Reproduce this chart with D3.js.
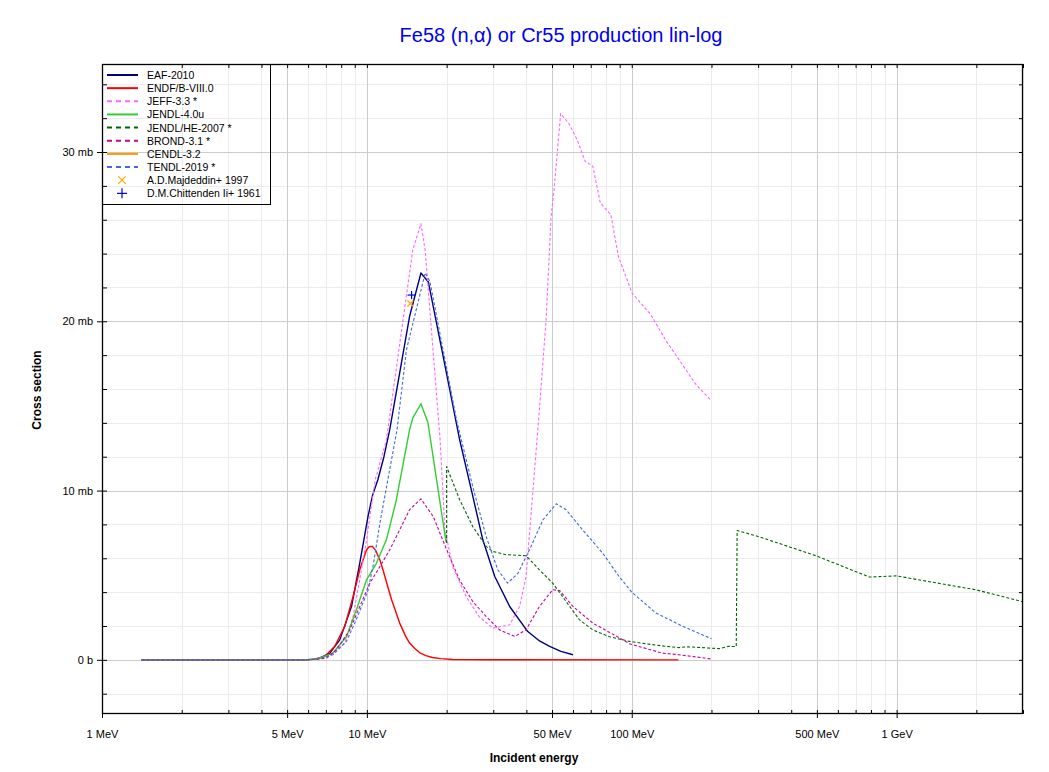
<!DOCTYPE html>
<html><head><meta charset="utf-8">
<script src="https://cdn.jsdelivr.net/npm/d3@7"></script>
<style>
html,body{margin:0;padding:0;background:#fff;}
svg{display:block;font-family:"Liberation Sans",Arial,sans-serif;}
</style></head>
<body><svg id="c" width="1049" height="772"></svg>
<script>
// ---- data: [energy MeV, cross section mb] ----
const eaf2010 = [[1.41,0],[5.8,0],[6.3,0.03],[6.63,0.1],[7.25,0.4],[7.9,1.18],[8.75,3.15],[9.4,5.71],[10.1,8.47],[10.5,9.7],[11.0,10.64],[11.6,12.0],[12.2,13.6],[14.5,20.3],[16.0,22.85],[17.07,22.32],[19.2,18.3],[22.4,13.0],[25,9.8],[27.4,7.09],[30.4,4.92],[34.6,3.15],[40.5,1.67],[45,1.1],[49,0.79],[54,0.5],[60,0.3]];
const endf80 = [[1.41,0],[5.8,0],[6.4,0.05],[6.93,0.2],[7.55,0.79],[8.25,1.97],[8.87,3.74],[9.4,5.32],[9.97,6.5],[10.2,6.68],[10.5,6.7],[10.8,6.45],[11.2,5.9],[11.5,5.32],[12.0,4.3],[12.4,3.55],[13.3,2.17],[14.0,1.4],[14.5,0.99],[15.2,0.65],[15.8,0.43],[16.7,0.25],[17.7,0.14],[19,0.07],[21.1,0.02],[30,0.003],[150,0]];
const jeff33 = [[1.41,0],[5.8,0],[6.5,0.03],[7.3,0.3],[8.25,0.99],[8.87,2.56],[9.4,4.73],[9.97,7.09],[10.75,10.64],[11.85,13.0],[14.9,24.2],[16.0,25.77],[16.6,24.2],[18.9,13.0],[19.7,7.7],[21.1,5.5],[23.7,3.74],[26.5,2.56],[29.9,1.87],[34.6,2.07],[37.7,3.15],[39.9,4.92],[44.5,14.18],[47.5,20.1],[49.6,26.2],[50.9,27.78],[53.9,32.27],[57.9,31.68],[62.2,30.73],[66.7,29.45],[71.3,29.16],[76.1,26.99],[83.4,26.3],[89,23.84],[100.3,21.67],[118,20.39],[134,18.91],[175,16.25],[200,15.3]];
const jendl40u = [[1.41,0],[5.8,0],[6.5,0.05],[7.45,0.4],[8.38,1.38],[9.13,2.96],[9.97,4.73],[10.86,5.7],[11.85,7.09],[12.9,9.4],[14.5,13.6],[14.9,14.28],[16.0,15.13],[17.0,14.02],[19.9,6.95]];
const jendlhe2007 = [[20,6.9],[20,11.42],[22.4,9.46],[25.1,7.88],[28.2,6.7],[29.9,6.4],[33.6,6.21],[39.9,6.15],[44.8,5.32],[50.3,4.53],[56.5,3.45],[63.5,2.36],[71.3,1.77],[82.6,1.36],[98.1,1.09],[123,0.87],[150,0.72],[163,0.77],[214,0.66],[232,0.8],[248,0.78],[250,7.64],[300,7.29],[496,6.15],[790,4.89],[995,4.96],[1990,4.14],[3000,3.43]];
const brond31 = [[1.41,0],[5.8,0],[6.5,0.03],[7.04,0.1],[7.67,0.59],[8.62,1.77],[9.4,3.15],[10.26,4.53],[11.2,5.51],[12.2,6.5],[13.3,7.68],[14.5,8.87],[16.0,9.51],[17.8,8.47],[19.9,6.6],[22.4,4.7],[25.1,3.45],[28.2,2.56],[31.7,1.77],[36.2,1.38],[39.9,1.77],[44.8,3.15],[50.3,4.14],[53.4,4.1],[60,3.15],[71.3,2.17],[89.8,1.3],[98,0.95],[130,0.4],[151,0.3],[200,0.05]];
const cendl32 = [];
const tendl2019 = [[1.41,0],[5.8,0],[6.5,0.04],[7.45,0.3],[8.38,1.1],[9.13,2.4],[10.1,4.1],[10.6,5.71],[11.2,8.08],[12.0,10.64],[13.0,13.6],[14.1,18.3],[16.6,22.85],[17.3,22.36],[21.8,14.18],[25.1,10.24],[28.2,7.29],[31.2,5.32],[34.0,4.53],[37.2,5.12],[41.1,6.5],[46.2,8.27],[51.9,9.22],[56.5,8.87],[65.2,7.68],[77.6,6.31],[89.8,4.9],[100,4.0],[123,2.78],[155,2.0],[200,1.25]];
const majdeddin1997 = [[14.6,21.05]];
const chittenden1961 = [[14.75,21.55]];

const seriesNames = ["EAF-2010","ENDF/B-VIII.0","JEFF-3.3 *","JENDL-4.0u","JENDL/HE-2007 *","BROND-3.1 *","CENDL-3.2","TENDL-2019 *"];
const seriesData = [eaf2010,endf80,jeff33,jendl40u,jendlhe2007,brond31,cendl32,tendl2019];
const seriesColors = ["#000080","#ff0000","#ff66ff","#33cc33","#006600","#cc0099","#ff9900","#4169e1"];
const seriesDashed = [false,false,true,false,true,true,false,true];
const pointNames = ["A.D.Majdeddin+ 1997","D.M.Chittenden Ii+ 1961"];
const pointData = [majdeddin1997, chittenden1961];
const pointColors = ["#ffaa00","#0000cc"];
const pointShapes = ["x","+"];

const xMajor = [1,5,10,50,100,500,1000];
const xMajorLabels = ["1 MeV","5 MeV","10 MeV","50 MeV","100 MeV","500 MeV","1 GeV"];
const xMinor = [2,3,4,6,7,8,9,20,30,40,60,70,80,90,200,300,400,600,700,800,900,2000,3000];
const yMajor = [0,10,20,30];
const yMajorLabels = ["0 b","10 mb","20 mb","30 mb"];
const yMinor = [-2,2,4,6,8,12,14,16,18,22,24,26,28,32,34];

const titleText = "Fe58 (n,α) or Cr55 production lin-log";
const xTitle = "Incident energy", yTitle = "Cross section";

// ---- layout ----
const L=102, R=1023, T=64, B=714;
const x = d3.scaleLog().domain([1,3000]).range([L,R]);
const y = d3.scaleLinear().domain([-3.2,35.2]).range([B,T]);
const svg = d3.select("#c");

svg.append("text").attr("x",561).attr("y",42).attr("text-anchor","middle")
  .attr("fill","#0000ee").attr("font-size",20).text(titleText);

svg.append("clipPath").attr("id","pc").append("rect")
  .attr("x",L).attr("y",T).attr("width",R-L).attr("height",B-T);

const grid = svg.append("g");
xMinor.forEach(v=>grid.append("line").attr("x1",Math.round(x(v))+.5).attr("x2",Math.round(x(v))+.5).attr("y1",T).attr("y2",B).attr("stroke","#ececec"));
yMinor.forEach(v=>grid.append("line").attr("y1",Math.round(y(v))+.5).attr("y2",Math.round(y(v))+.5).attr("x1",L).attr("x2",R).attr("stroke","#ececec"));
xMajor.forEach(v=>grid.append("line").attr("x1",Math.round(x(v))+.5).attr("x2",Math.round(x(v))+.5).attr("y1",T).attr("y2",B).attr("stroke","#cccccc"));
yMajor.forEach(v=>grid.append("line").attr("y1",Math.round(y(v))+.5).attr("y2",Math.round(y(v))+.5).attr("x1",L).attr("x2",R).attr("stroke","#cccccc"));

// axes via d3 axis generators
const fs = 11;
const xAx = svg.append("g").attr("transform",`translate(0,${B})`)
  .call(d3.axisBottom(x).tickValues(xMajor).tickFormat((d,i)=>xMajorLabels[i]).tickSize(4).tickPadding(12));
const xAxMin = svg.append("g").attr("transform",`translate(0,${B})`)
  .call(d3.axisTop(x).tickValues(xMinor.concat(xMajor)).tickFormat("").tickSize(4));
const xTop = svg.append("g").attr("transform",`translate(0,${T})`)
  .call(d3.axisBottom(x).tickValues(xMinor.concat(xMajor)).tickFormat("").tickSize(4));
const yAx = svg.append("g").attr("transform",`translate(${L},0)`)
  .call(d3.axisLeft(y).tickValues(yMajor).tickFormat((d,i)=>yMajorLabels[i]).tickSize(5).tickPadding(4));
const yAxMin = svg.append("g").attr("transform",`translate(${L},0)`)
  .call(d3.axisRight(y).tickValues(yMinor.concat(yMajor)).tickFormat("").tickSize(5));
const yRight = svg.append("g").attr("transform",`translate(${R},0)`)
  .call(d3.axisLeft(y).tickValues(yMinor.concat(yMajor)).tickFormat("").tickSize(4));
[xAx,xAxMin,xTop,yAx,yAxMin,yRight].forEach(g=>{
  g.select(".domain").remove();
  g.selectAll("line").attr("stroke","#000");
  g.selectAll("text").attr("font-size",fs).attr("fill","#000").attr("font-family","Liberation Sans, Arial, sans-serif");
});

// series
const line = d3.line().x(d=>x(d[0])).y(d=>y(d[1]));
const plot = svg.append("g").attr("clip-path","url(#pc)");
seriesData.forEach((data,i)=>{
  if(!data.length) return;
  plot.append("path").datum(data).attr("d",line).attr("fill","none")
    .attr("stroke",seriesColors[i])
    .attr("stroke-width",seriesDashed[i]?1.1:1.4)
    .attr("stroke-dasharray",seriesDashed[i]?"3,2":null)
    .attr("stroke-linejoin","round");
});
function marker(g,shape,cx,cy,col,s){
  if(shape==="+"){
    g.append("line").attr("x1",cx-s).attr("x2",cx+s).attr("y1",cy).attr("y2",cy).attr("stroke",col).attr("stroke-width",1.2);
    g.append("line").attr("x1",cx).attr("x2",cx).attr("y1",cy-s).attr("y2",cy+s).attr("stroke",col).attr("stroke-width",1.2);
  } else {
    g.append("line").attr("x1",cx-s*0.75).attr("x2",cx+s*0.75).attr("y1",cy-s*0.75).attr("y2",cy+s*0.75).attr("stroke",col).attr("stroke-width",1.2);
    g.append("line").attr("x1",cx-s*0.75).attr("x2",cx+s*0.75).attr("y1",cy+s*0.75).attr("y2",cy-s*0.75).attr("stroke",col).attr("stroke-width",1.2);
  }
}
pointData.forEach((data,i)=>{
  data.forEach(d=>marker(plot,pointShapes[i],x(d[0]),y(d[1]),pointColors[i],4));
});

// frame
svg.append("rect").attr("x",L+.5).attr("y",T+.5).attr("width",R-L-1).attr("height",B-T-1)
  .attr("fill","none").attr("stroke","#000").attr("stroke-width",1.3);

// axis titles
svg.append("text").attr("x",534).attr("y",762).attr("text-anchor","middle").attr("font-weight","bold").attr("font-size",12).text(xTitle);
svg.append("text").attr("transform","translate(41,390) rotate(-90)").attr("text-anchor","middle").attr("font-weight","bold").attr("font-size",12).text(yTitle);

// legend
const lg = svg.append("g");
const lx=L, ly=T, lw=168, lh=140, step=13.15;
lg.append("rect").attr("x",lx+.5).attr("y",ly+.5).attr("width",lw).attr("height",lh).attr("fill","none").attr("stroke","#000").attr("stroke-width",1);
seriesNames.forEach((n,i)=>{
  const yy = ly+11+i*step;
  lg.append("line").attr("x1",lx+5).attr("x2",lx+36).attr("y1",yy).attr("y2",yy)
    .attr("stroke",seriesColors[i]).attr("stroke-width",2).attr("stroke-dasharray",seriesDashed[i]?"5,4":null);
  lg.append("text").attr("x",lx+45).attr("y",yy+4).attr("font-size",10.5).text(n);
});
pointNames.forEach((n,i)=>{
  const yy = ly+11+(seriesNames.length+i)*step;
  marker(lg,pointShapes[i],lx+20,yy,pointColors[i],5);
  lg.append("text").attr("x",lx+45).attr("y",yy+4).attr("font-size",10.5).text(n);
});
</script></body></html>
